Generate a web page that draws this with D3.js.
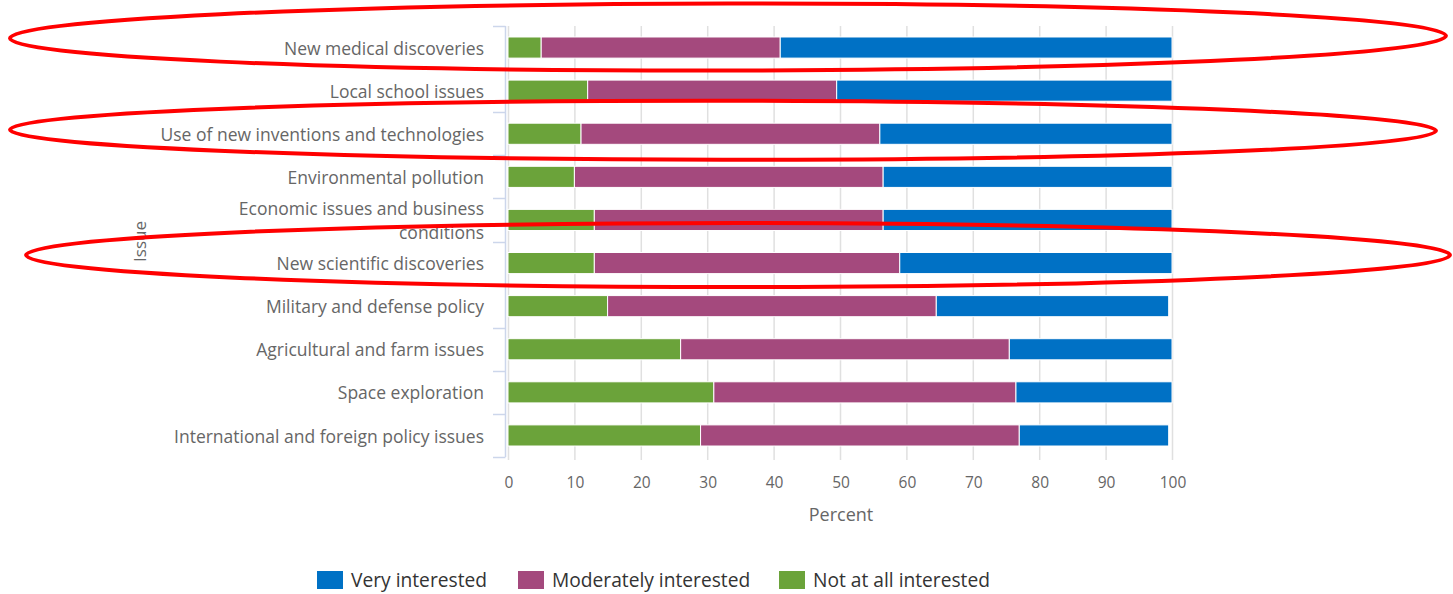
<!DOCTYPE html>
<html>
<head>
<meta charset="utf-8">
<script src="https://cdn.jsdelivr.net/npm/d3@7"></script>
<style>
  html, body { margin: 0; padding: 0; background: #ffffff; }
  svg { display: block; font-family: "Open Sans", sans-serif; }
</style>
</head>
<body>
<svg id="chart" width="1453" height="594"></svg>
<script>
// ---- data ----
const categories = [
  "New medical discoveries",
  "Local school issues",
  "Use of new inventions and technologies",
  "Environmental pollution",
  "Economic issues and business conditions",
  "New scientific discoveries",
  "Military and defense policy",
  "Agricultural and farm issues",
  "Space exploration",
  "International and foreign policy issues"
];
const notAtAll   = [5, 12, 11, 10, 13, 13, 15, 26, 31, 29];
const moderately = [36, 37.5, 45, 46.5, 43.5, 46, 49.5, 49.5, 45.5, 48];
const very       = [59, 50.5, 44, 43.5, 43.5, 41, 35, 24.5, 23.5, 22.5];
const seriesNames = ["Very interested", "Moderately interested", "Not at all interested"];
const xTicks = [0, 10, 20, 30, 40, 50, 60, 70, 80, 90, 100];
const labelBreaks = {
  "Economic issues and business conditions": ["Economic issues and business", "conditions"]
};

// ---- layout ----
const colors = { "Very interested": "#0071c5", "Moderately interested": "#a4497d", "Not at all interested": "#6ba33a" };
const plot = { left: 508, right: 1172, top: 26, bottom: 457 };

const svg = d3.select("#chart");
const x = d3.scaleLinear().domain([0, 100]).range([plot.left, plot.right]);
const y = d3.scaleBand().domain(categories).range([plot.top, plot.bottom]).paddingInner(0.51).paddingOuter(0.255);
const yb = d3.scaleBand().domain(categories).range([plot.top, plot.bottom]);

// gridlines
svg.append("g").selectAll("line").data(xTicks).join("line")
  .attr("x1", d => x(d) + 0.5).attr("x2", d => x(d) + 0.5)
  .attr("y1", plot.top).attr("y2", plot.bottom + 3)
  .attr("stroke", "#e0e0e0").attr("stroke-width", 1.5);

// stacked data
const rows = categories.map((c, i) => ({
  cat: c,
  "Not at all interested": notAtAll[i],
  "Moderately interested": moderately[i],
  "Very interested": very[i]
}));
const stack = d3.stack().keys(["Not at all interested", "Moderately interested", "Very interested"]);
const layers = stack(rows);

svg.append("g").selectAll("g").data(layers).join("g")
  .attr("fill", d => colors[d.key])
  .selectAll("rect").data(d => d).join("rect")
  .attr("x", d => x(d[0]))
  .attr("width", d => x(d[1]) - x(d[0]))
  .attr("y", d => y(d.data.cat))
  .attr("height", y.bandwidth())
  .attr("stroke", "#ffffff").attr("stroke-width", 1);

// y axis line & ticks
const axisG = svg.append("g").attr("stroke", "#ccd6eb").attr("fill", "none");
axisG.append("line").attr("x1", 505.5).attr("x2", 505.5).attr("y1", plot.top).attr("y2", plot.bottom).attr("stroke-width", 1.5);
const bounds = categories.map(c => yb(c)).concat([plot.bottom]);
axisG.selectAll("line.t").data(bounds).join("line").attr("class", "t")
  .attr("x1", 493).attr("x2", 505.5)
  .attr("y1", d => Math.round(d) + 0.5).attr("y2", d => Math.round(d) + 0.5)
  .attr("stroke-width", 1.5);

// category labels
const lab = svg.append("g").attr("fill", "#666666").style("font-size", "17.5px").attr("text-anchor", "end");
categories.forEach(c => {
  const lines = labelBreaks[c] || [c];
  const cy = yb(c) + yb.bandwidth() / 2 + 1;
  const lh = 24;
  const t = lab.append("text").attr("x", 484);
  lines.forEach((ln, k) => {
    t.append("tspan").attr("x", 484)
      .attr("y", cy + (k - (lines.length - 1) / 2) * lh)
      .attr("dy", "0.35em").text(ln);
  });
});

// x axis labels
svg.append("g").attr("fill", "#666666").style("font-size", "15.5px").attr("text-anchor", "middle")
  .selectAll("text").data(xTicks).join("text")
  .attr("x", d => x(d) + 1).attr("y", 483).attr("dy", "0.35em").text(d => d);

// axis titles
svg.append("text").attr("x", (plot.left + plot.right) / 2 + 1).attr("y", 515).attr("dy", "0.35em")
  .attr("text-anchor", "middle").attr("fill", "#666666").style("font-size", "18px").text("Percent");
svg.append("text").attr("transform", `translate(140,${(plot.top + plot.bottom) / 2}) rotate(-90)`)
  .attr("dy", "0.35em").attr("text-anchor", "middle").attr("fill", "#666666").style("font-size", "17px").text("Issue");

// legend
const legendX = [317, 518, 779];
const leg = svg.append("g");
seriesNames.forEach((s, i) => {
  const g = leg.append("g").attr("transform", `translate(${legendX[i]},571)`);
  g.append("rect").attr("width", 26).attr("height", 18).attr("fill", colors[s]);
  g.append("text").attr("x", 34).attr("y", 9).attr("dy", "0.35em")
    .attr("fill", "#333333").style("font-size", "19.2px").text(s);
});

// red highlight ellipses (annotation)
const highlights = [
  { cat: "New medical discoveries", cx: 728, dy: -10.5, rx: 718, ry: 33.5, rot: -0.1 },
  { cat: "Use of new inventions and technologies", cx: 723, dy: -3.5, rx: 713, ry: 29.5, rot: 0.05 },
  { cat: "New scientific discoveries", cx: 738, dy: -8, rx: 712, ry: 32, rot: 0 }
];
svg.append("g").selectAll("ellipse").data(highlights).join("ellipse")
  .attr("cx", d => d.cx).attr("cy", d => yb(d.cat) + yb.bandwidth() / 2 + d.dy)
  .attr("rx", d => d.rx).attr("ry", d => d.ry)
  .attr("transform", d => `rotate(${d.rot},${d.cx},${yb(d.cat) + yb.bandwidth() / 2})`)
  .attr("fill", "none").attr("stroke", "#ff0000").attr("stroke-width", 4);
</script>
</body>
</html>
